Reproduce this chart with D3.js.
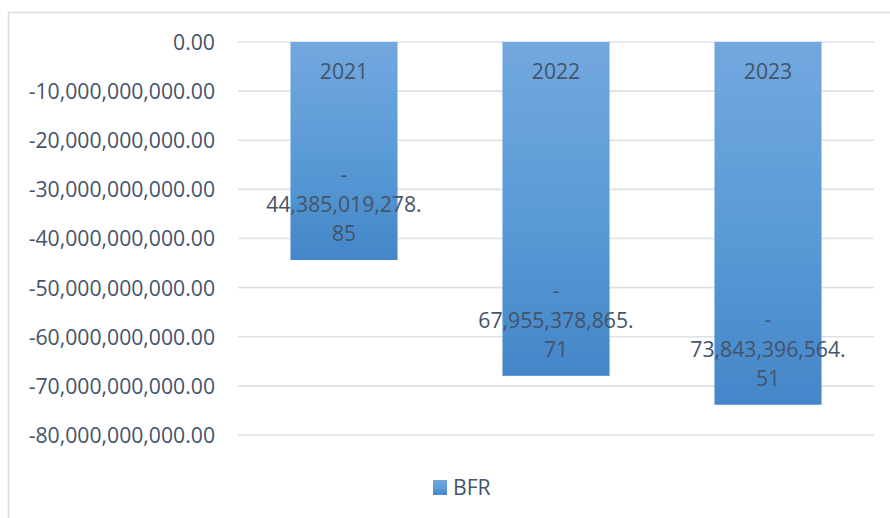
<!DOCTYPE html>
<html>
<head>
<meta charset="utf-8">
<script src="https://cdn.jsdelivr.net/npm/d3@7"></script>
<style>
  html, body { margin: 0; padding: 0; background: #fff; }
  svg { display: block; }
</style>
</head>
<body>
<svg id="chart" width="890" height="518"></svg>
<script>
// BFR by year
const categories = ["2021", "2022", "2023"];
const values = [-44385019278.85, -67955378865.71, -73843396564.51];
const tickValues = [0, -10e9, -20e9, -30e9, -40e9, -50e9, -60e9, -70e9, -80e9];
const seriesName = "BFR";

const W = 890, H = 518;
const textColor = "#44546a";
const font = "'Open Sans', 'Noto Sans', sans-serif";
const fontSize = "21.2px";
const svg = d3.select("#chart");

// chart area frame
svg.append("rect")
  .attr("x", 8.5).attr("y", 12.5)
  .attr("width", W + 20).attr("height", H + 20)
  .attr("fill", "none").attr("stroke", "#d9dde2").attr("stroke-width", 1.5);

const plot = { left: 238, right: 874, top: 42, bottom: 435 };

const y = d3.scaleLinear().domain([0, -80e9]).range([plot.top, plot.bottom]);
const x = d3.scaleBand().domain(categories)
  .range([plot.left, plot.right])
  .paddingInner(0.495).paddingOuter(0.2475);

// bar gradient
const defs = svg.append("defs");
const grad = defs.append("linearGradient").attr("id", "barGrad")
  .attr("x1", 0).attr("y1", 0).attr("x2", 0).attr("y2", 1);
grad.append("stop").attr("offset", "0%").attr("stop-color", "#73a8de");
grad.append("stop").attr("offset", "50%").attr("stop-color", "#5b9bd7");
grad.append("stop").attr("offset", "100%").attr("stop-color", "#4486c8");

// gridlines
svg.append("g")
  .selectAll("line").data(tickValues).join("line")
  .attr("x1", plot.left).attr("x2", plot.right)
  .attr("y1", d => y(d)).attr("y2", d => y(d))
  .attr("stroke", "#dde1e7").attr("stroke-width", 1.6);

// y axis labels
const fmt = d3.format(",.2f");
const yAxis = d3.axisLeft(y).tickValues(tickValues)
  .tickFormat(d => fmt(d).replace("−", "-")).tickSize(0).tickPadding(0);
const yg = svg.append("g").attr("transform", "translate(215,0)").call(yAxis);
yg.select(".domain").remove();
yg.selectAll("text")
  .attr("fill", textColor).attr("font-family", font).attr("font-size", fontSize)
  .attr("dy", "0.35em");

// bars
svg.append("g").selectAll("rect").data(values).join("rect")
  .attr("x", (d, i) => x(categories[i]))
  .attr("width", x.bandwidth())
  .attr("y", d => y(Math.max(0, d)))
  .attr("height", d => Math.abs(y(d) - y(0)))
  .attr("fill", "url(#barGrad)");

// category labels inside the top of each bar
svg.append("g").selectAll("text").data(categories).join("text")
  .attr("x", d => x(d) + x.bandwidth() / 2)
  .attr("y", y(0) + 30)
  .attr("dy", "0.35em")
  .attr("text-anchor", "middle")
  .attr("fill", textColor).attr("font-family", font).attr("font-size", fontSize)
  .text(d => d);

// value labels, wrapped over three lines near the bar end
const valueLines = v => {
  const s = fmt(Math.abs(v));
  const dot = s.indexOf(".");
  return ["-", s.slice(0, dot + 1), s.slice(dot + 1)];
};
const lbl = svg.append("g").selectAll("text").data(values).join("text")
  .attr("text-anchor", "middle")
  .attr("fill", textColor).attr("font-family", font).attr("font-size", fontSize);
lbl.each(function (v, i) {
  const cx = x(categories[i]) + x.bandwidth() / 2;
  const endY = y(v);
  const lines = valueLines(v);
  d3.select(this).selectAll("tspan").data(lines).join("tspan")
    .attr("x", cx)
    .attr("y", (d, k) => endY - 26 - (lines.length - 1 - k) * 29.5)
    .attr("dy", "0.35em")
    .text(d => d);
});

// legend
const lg = svg.append("g").attr("transform", "translate(433,480)");
lg.append("rect").attr("width", 14).attr("height", 15).attr("fill", "url(#barGrad)");
lg.append("text").attr("x", 20).attr("y", 8).attr("dy", "0.35em")
  .attr("fill", textColor).attr("font-family", font).attr("font-size", fontSize)
  .text(seriesName);
</script>
</body>
</html>
